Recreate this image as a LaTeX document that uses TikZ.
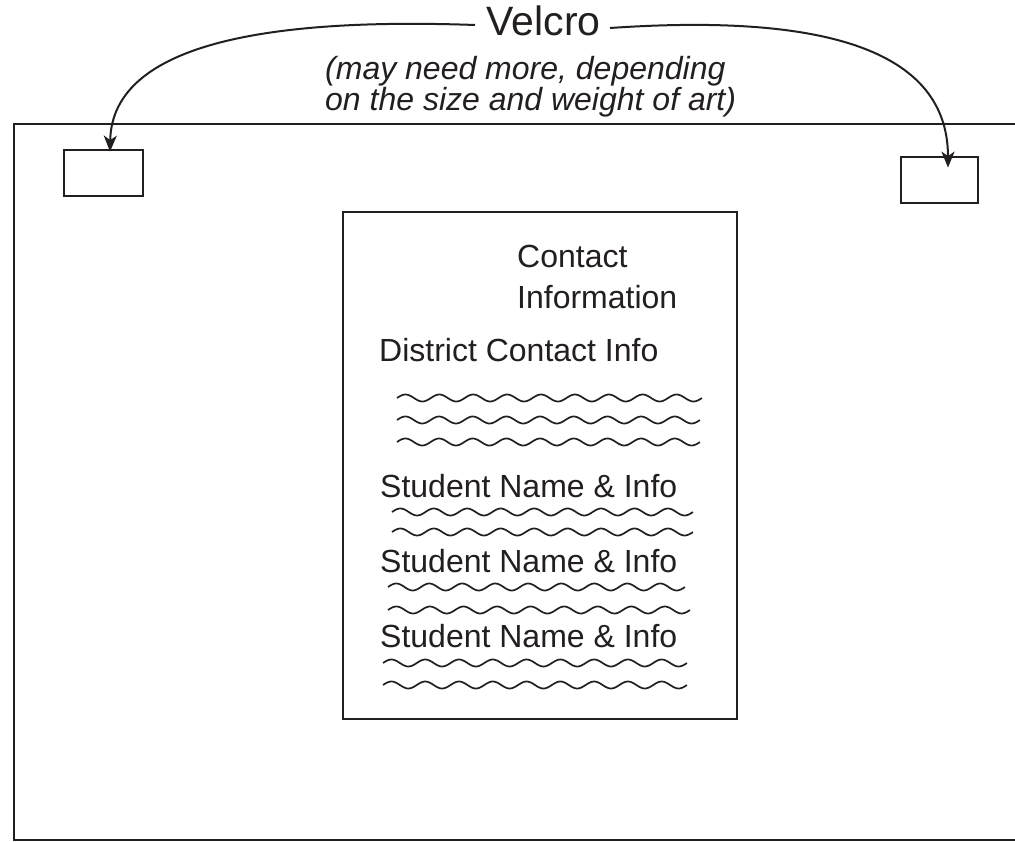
\documentclass[tikz,border=0pt]{standalone}
\usepackage{fontspec}
\setmainfont{Liberation Sans}
\usetikzlibrary{arrows.meta}
\definecolor{ink}{RGB}{35,31,32}
\newcommand\wavyline[3]{%
  \draw[waveline] plot[domain=0:1,samples=180,smooth]
    ({#1+\x*(#2-#1)},{#3-3.5*sin(\x*3240)});}
\tikzset{
  frame/.style={draw=ink,line width=2.8pt},
  pad/.style={draw=ink,line width=2.8pt,minimum width=79pt,minimum height=46pt,inner sep=0pt},
  sheet/.style={draw=ink,line width=2.8pt,minimum width=394pt,minimum height=507pt,inner sep=0pt},
  body/.style={inner sep=0pt,anchor=base west,text=ink,font=\fontsize{32}{38}\selectfont},
  note/.style={inner sep=0pt,anchor=base west,text=ink,font=\fontsize{32}{38}\selectfont\itshape},
  title/.style={inner sep=0pt,anchor=base,text=ink,font=\fontsize{41}{48}\selectfont},
  link/.style={draw=ink,line width=2pt,-{Stealth[length=16pt,width=13pt,inset=4.5pt]}},
  waveline/.style={draw=ink,line width=1.7pt}
}
\begin{document}
\begin{tikzpicture}[x=1pt,y=-1pt]
\clip (0,0) rectangle (1015,842);
\fill[white] (0,0) rectangle (1015,842);
% outer board (open to the right)
\draw[frame] (1030,124) -- (14,124) -- (14,840) -- (1030,840);
% velcro pads
\node[pad] (padL) at (103.5,173) {};
\node[pad,minimum width=77pt] (padR) at (939.5,180) {};
% contact sheet
\node[sheet] (sheet) at (540,465.5) {};
% title and note
\node[title] (velcro) at (543.5,36) {Velcro};
\coordinate (vL) at (475,25);
\coordinate (vR) at (610,28);
\node[note] (note1) at (325,80) {(may need more, depending};
\node[note] (note2) at (325,111) {on the size and weight of art)};
% connectors
\draw[link] (vL) .. controls (280,18) and (112,40) .. ([xshift=6.5pt,yshift=-3pt]padL.north);
\draw[link] (vR) .. controls (800,15) and (948,40) .. ([xshift=8.5pt,yshift=-12pt]padR.north);
% sheet texts
\node[body] (contact) at (517,268) {Contact};
\node[body] (information) at (517,309) {Information};
\node[body] (district) at (379,362) {District Contact Info};
\node[body] (student1) at (380,497) {Student Name \& Info};
\node[body] (student2) at (380,572) {Student Name \& Info};
\node[body] (student3) at (380,647) {Student Name \& Info};
% wavy lines
\wavyline{397}{702}{398}
\wavyline{397}{700}{420}
\wavyline{397}{700}{442}
\wavyline{392}{693}{512}
\wavyline{392}{693}{532}
\wavyline{388}{685}{587}
\wavyline{388}{690}{610}
\wavyline{383}{687}{663}
\wavyline{383}{687}{685}
\end{tikzpicture}
\end{document}
